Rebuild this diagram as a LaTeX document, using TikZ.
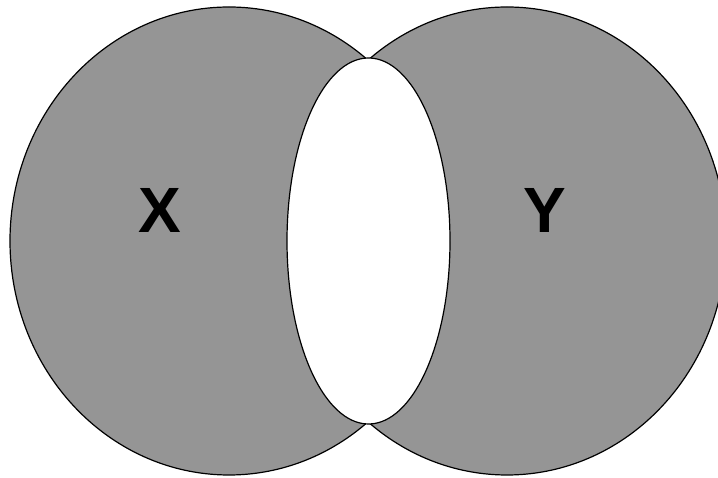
\documentclass[tikz,border=0pt]{standalone}
\usepackage{fontspec}
\setmainfont{Liberation Sans}
\usepackage{tikz}
\usetikzlibrary{positioning}

\definecolor{setgray}{HTML}{959595}

\begin{document}
\begin{tikzpicture}[
  x=1pt, y=1pt,
  setfill/.style={fill=setgray, draw=black, line width=1.2pt},
  lensfill/.style={fill=white, draw=black, line width=1.2pt},
  setlabel/.style={font=\fontsize{64}{64}\selectfont\bfseries, inner sep=0pt},
]
% --- frame ---
\fill[white] (0,0) rectangle (718,478);
\useasboundingbox (0,0) rectangle (718,478);
\clip (0,0) rectangle (718,478);

% --- sets X and Y ---
\draw[setfill] (229,237) ellipse [x radius=219pt, y radius=234pt];
\draw[setfill] (507,237) ellipse [x radius=219pt, y radius=234pt];

% --- intersection ---
\draw[lensfill] (368.5,237) ellipse [x radius=81.5pt, y radius=183pt];

% --- labels ---
\node[setlabel] (labelX) at (160,268) {X};
\node[setlabel] (labelY) at (545,268) {Y};

\end{tikzpicture}
\end{document}
